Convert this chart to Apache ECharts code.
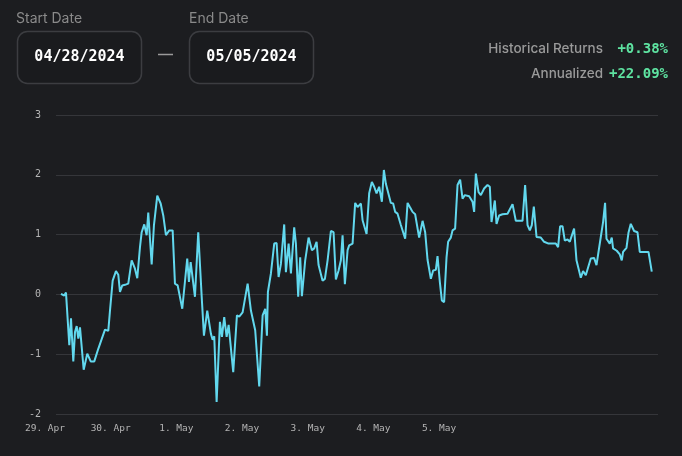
<!DOCTYPE html>
<html>
<head>
<meta charset="utf-8">
<script src="https://cdn.jsdelivr.net/npm/echarts@6/dist/echarts.min.js"></script>
<style>
  html, body { margin: 0; padding: 0; background: #1c1d20; }
</style>
</head>
<body>
<div id="chart" style="width: 682px; height: 456px"></div>
<script>
// hours from the left edge of the plot (ordinal time axis), and return in %
const hours = [
  1.83, 3.03, 3.65, 4.86, 5.48, 6.32, 6.94, 7.56, 8.15, 8.77, 9.50, 10.12, 11.43, 12.68, 13.99, 15.45,
  17.90, 19.11, 19.73, 20.71, 21.30, 21.92, 22.76, 23.38, 24.22, 25.21, 26.41, 27.65, 28.86, 29.70,
  30.69, 31.31, 32.26, 33.13, 33.72, 34.96, 35.80, 37.01, 38.25, 39.20, 40.18, 41.39, 42.63, 43.47,
  44.46, 46.14, 46.87, 47.96, 48.58, 49.21, 49.94, 50.78, 51.98, 53.22, 54.06, 55.27,
  56.62, 57.24, 57.83, 58.70, 59.91, 60.64, 61.48, 62.36, 63.09, 63.67, 64.77, 66.12, 66.96, 68.20,
  70.03, 71.23, 72.80, 74.27, 75.51, 76.46, 77.08, 77.44, 78.54, 79.75, 80.62, 81.35, 82.19, 83.40,
  84.02, 85.01, 85.85, 87.05, 87.67, 88.51, 89.24, 89.86, 91.07, 92.31, 93.52, 94.36, 95.23, 95.96,
  96.55, 97.42, 98.27, 99.25, 100.46, 101.44, 102.28, 103.27, 104.11, 104.73, 105.57, 106.56, 107.14,
  108.38, 109.33, 110.21,
  111.42, 112.04, 112.62, 113.50, 114.45, 115.43, 116.28, 117.15, 118.10, 119.09, 119.82, 120.55,
  121.17, 122.37, 123.21, 123.94, 124.82, 126.03, 127.60, 128.48, 129.32, 130.30, 131.25, 132.71,
  133.96, 134.91, 135.78, 136.99, 137.83, 138.81, 139.43, 140.27, 141.00, 141.84, 142.72, 143.30,
  144.29, 144.91, 145.86, 146.74, 147.69, 148.57, 149.41, 150.98, 152.22, 152.81, 153.43, 154.42,
  155.26, 156.46, 157.70, 158.54, 159.16, 159.75, 160.37, 160.99, 161.94, 163.18, 165.01,
  166.84, 168.04, 170.49, 171.44, 172.32, 173.16, 173.89, 174.62, 175.61, 177.17, 178.38, 179.99,
  182.65, 183.49, 184.22, 185.10, 185.94, 186.93, 187.76, 189.33, 190.21, 190.94, 191.78, 192.62,
  193.61, 194.23, 195.43, 196.64, 197.52, 199.09, 199.93, 200.66, 201.17, 201.90, 202.37, 203.10,
  203.58, 204.93, 206.03, 206.76, 207.24, 208.48, 209.21, 210.05, 211.26, 212.50, 213.34, 216.52, 217.72
];
const returns = [
  0.01, -0.02, 0.03, -0.85, -0.40, -1.12, -0.63, -0.53, -0.74, -0.55, -0.58, -1.26, -0.99, -1.12, -1.12, -0.91,
  -0.59, -0.61, -0.27, 0.23, 0.22, 0.39, 0.33, 0.04, 0.15, 0.16, 0.18, 0.57, 0.43, 0.27,
  0.79, 1.04, 1.17, 0.99, 1.37, 0.50, 1.16, 1.65, 1.52, 1.32, 0.99, 1.07, 1.07, 0.18,
  0.15, -0.24, -0.25, 0.60, 0.21, 0.54, 0.51, -0.04, 1.04, -0.02, -0.69, -0.27,
  -0.66, -0.76, -0.70, -1.80, -0.46, -0.71, -0.38, -0.71, -0.51, -0.52, -1.30, -0.35, -0.37, -0.30,
  0.18, -0.27, -0.60, -1.54, -0.35, -0.24, -0.69, 0.04, 0.35, 0.85, 0.86, 0.29, 0.51, 1.17,
  0.37, 0.85, 0.35, 1.12, 0.85, -0.04, 0.62, -0.03, 0.57, 0.95, 0.74, 0.77, 0.88, 0.49,
  0.46, 0.23, 0.26, 0.57, 1.06, 1.04, 0.25, 0.40, 0.57, 0.99, 0.17, 0.74, 0.82,
  0.85, 1.53, 1.46,
  1.52, 1.24, 1.21, 1.01, 1.69, 1.88, 1.80, 1.69, 1.80, 1.55, 2.08, 1.85,
  1.86, 1.53, 1.52, 1.38, 1.35, 1.16, 0.93, 1.53, 1.46, 1.38, 1.34, 0.95,
  1.23, 1.04, 0.58, 0.26, 0.40, 0.41, 0.64, 0.21, -0.10, -0.13, 0.62, 0.88,
  0.95, 1.07, 1.10, 1.83, 1.92, 1.60, 1.66, 1.64, 1.55, 1.38, 2.02, 1.71,
  1.66, 1.77, 1.83, 1.80, 1.21, 1.21, 1.57, 1.18, 1.32, 1.34, 1.35,
  1.51, 1.23, 1.23, 1.83, 1.16, 1.07, 1.16, 1.47, 0.96, 0.95, 0.88, 0.85,
  0.85, 0.79, 1.14, 1.14, 0.90, 0.92, 0.88, 1.10, 0.57, 0.56, 0.28, 0.39,
  0.32, 0.29, 0.60, 0.61, 0.49, 0.96, 1.21, 1.53, 0.93, 0.95, 0.85, 0.95,
  0.77, 0.73, 0.67, 0.57, 0.71, 0.78, 1.03, 1.18, 1.06, 1.04, 0.71, 0.71, 0.38
];
const dayLabels = ["29. Apr", "30. Apr", "1. May", "2. May", "3. May", "4. May", "5. May"];

const mono = "'DejaVu Sans Mono', monospace";
const sans = "Inter, 'Noto Sans', sans-serif";

let myChart = echarts.init(document.getElementById("chart"));
myChart.setOption({
  backgroundColor: "#1c1d20",
  animation: false,
  grid: {
    left: 56,
    right: 24,
    top: 115,
    bottom: 42,
  },
  xAxis: {
    type: "value",
    min: 0,
    max: 220,
    interval: 24,
    axisLine: { show: false },
    axisTick: { show: false },
    splitLine: { show: false },
    axisLabel: {
      color: "#b4b4b4",
      fontFamily: mono,
      fontSize: 9.5,
      margin: 10,
      showMaxLabel: false,
      padding: [0, 22, 0, 0],
      formatter: (v) => dayLabels[Math.round(v / 24)] || "",
    },
  },
  yAxis: {
    type: "value",
    min: -2,
    max: 3,
    interval: 1,
    axisLine: { show: false },
    axisTick: { show: false },
    axisLabel: {
      color: "#b4b4b4",
      fontFamily: mono,
      fontSize: 10,
      margin: 15,
    },
    splitLine: {
      lineStyle: { color: "#35363a", width: 1 },
    },
  },
  series: [
    {
      type: "line",
      data: hours.map((h, i) => [h, returns[i]]),
      showSymbol: false,
      lineStyle: { color: "#62d8ee", width: 2 },
    },
  ],
  graphic: [
    { type: "text", left: 16, top: 12, style: { text: "Start Date", fill: "#8a8a8a", font: "14px " + sans } },
    { type: "text", left: 189, top: 12, style: { text: "End Date", fill: "#8a8a8a", font: "14px " + sans } },
    {
      type: "rect",
      shape: { x: 17.5, y: 31.5, width: 124, height: 52, r: 10 },
      style: { fill: "#1a1b1e", stroke: "#3c3d41", lineWidth: 1.5 },
    },
    {
      type: "rect",
      shape: { x: 189.5, y: 31.5, width: 124, height: 52, r: 10 },
      style: { fill: "#1a1b1e", stroke: "#3c3d41", lineWidth: 1.5 },
    },
    {
      type: "text",
      x: 79.5, y: 57,
      style: { text: "04/28/2024", fill: "#ffffff", font: "bold 15px " + mono, align: "center", verticalAlign: "middle" },
    },
    {
      type: "text",
      x: 251.5, y: 57,
      style: { text: "05/05/2024", fill: "#ffffff", font: "bold 15px " + mono, align: "center", verticalAlign: "middle" },
    },
    { type: "line", shape: { x1: 158, y1: 54.5, x2: 173, y2: 54.5 }, style: { stroke: "#9a9a9a", lineWidth: 1.5 } },
    {
      type: "text",
      x: 603, y: 49,
      style: { text: "Historical Returns", fill: "#9a9a9a", font: "500 13.5px " + sans, align: "right", verticalAlign: "middle" },
    },
    {
      type: "text",
      x: 668, y: 49,
      style: { text: "+0.38%", fill: "#5ee3a1", font: "bold 14px " + mono, align: "right", verticalAlign: "middle" },
    },
    {
      type: "text",
      x: 603, y: 74,
      style: { text: "Annualized", fill: "#9a9a9a", font: "500 13.5px " + sans, align: "right", verticalAlign: "middle" },
    },
    {
      type: "text",
      x: 668, y: 74,
      style: { text: "+22.09%", fill: "#5ee3a1", font: "bold 14px " + mono, align: "right", verticalAlign: "middle" },
    },
  ],
});

window.addEventListener("resize", () => {
  myChart.resize();
});
</script>
</body>
</html>
